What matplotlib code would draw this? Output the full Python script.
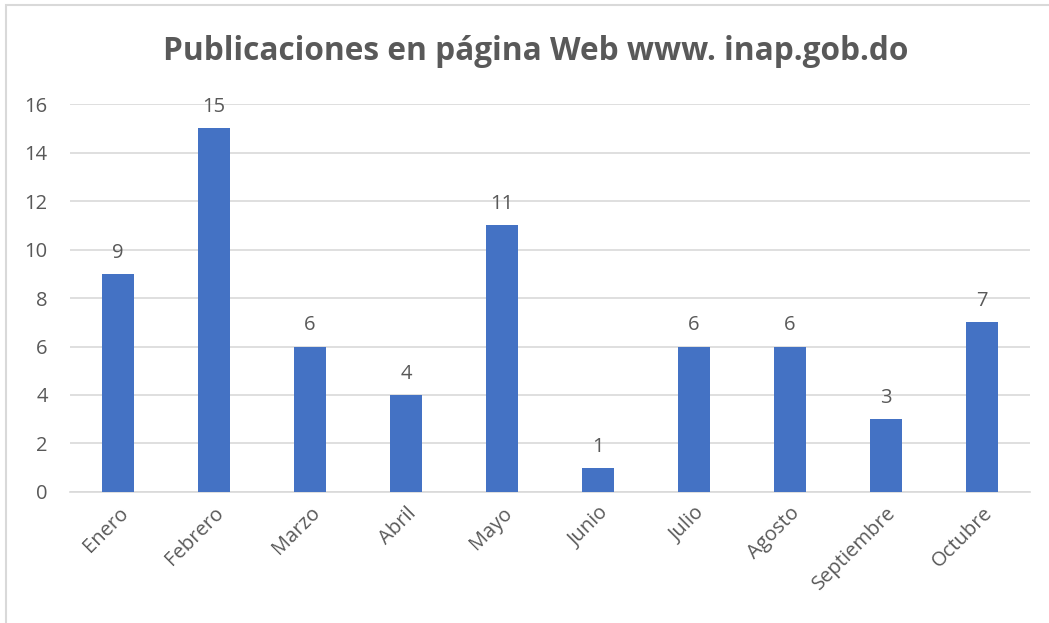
import matplotlib
matplotlib.use('Agg')
from matplotlib import pyplot as plt
from matplotlib.patches import Rectangle

months = ['Enero', 'Febrero', 'Marzo', 'Abril', 'Mayo', 'Junio',
          'Julio', 'Agosto', 'Septiembre', 'Octubre']
publications = [9, 15, 6, 4, 11, 1, 6, 6, 3, 7]
y_ticks = [0, 2, 4, 6, 8, 10, 12, 14, 16]

BAR_COLOR = '#4472C4'
TEXT_COLOR = '#595959'
GRID_COLOR = '#D9D9D9'

plt.rcParams['font.family'] = ['Open Sans', 'DejaVu Sans']

fig = plt.figure(figsize=(10.49, 6.23), dpi=100)
ax = fig.add_axes([0.0667, 0.2103, 0.9153, 0.6227])

x = list(range(len(months)))
bars = ax.bar(x, publications, width=0.33, color=BAR_COLOR, zorder=3)

# value labels above bars
for xi, val in zip(x, publications):
    ax.annotate(str(val), (xi, val), xytext=(0, 8), textcoords='offset points',
                ha='center', va='bottom', fontsize=14.5, color=TEXT_COLOR)

ax.set_xlim(-0.5, len(months) - 0.5)
ax.set_ylim(0, 16)
ax.set_yticks(y_ticks)
ax.set_xticks(x)
ax.set_xticklabels(months, rotation=45, ha='right', rotation_mode='anchor',
                   fontsize=14.5, color=TEXT_COLOR)
ax.tick_params(axis='y', labelsize=14.5, labelcolor=TEXT_COLOR, length=0, pad=16)
ax.tick_params(axis='x', length=0, pad=8)

ax.yaxis.grid(True, color=GRID_COLOR, linewidth=1.2, zorder=0)
for side in ['top', 'right', 'left']:
    ax.spines[side].set_visible(False)
ax.spines['bottom'].set_color(GRID_COLOR)
ax.spines['bottom'].set_linewidth(1.2)

fig.text(0.511, 0.918, 'Publicaciones en página Web www. inap.gob.do',
         ha='center', va='center', fontsize=22.8, fontweight='bold',
         color=TEXT_COLOR)

# light chart frame (top and left edges visible)
frame = Rectangle((6 / 1049, -0.1), 1.2, 1.1 - 5 / 623, transform=fig.transFigure,
                  fill=False, edgecolor=GRID_COLOR, linewidth=1.5)
fig.patches.append(frame)

fig.savefig('out.png', dpi=100)
